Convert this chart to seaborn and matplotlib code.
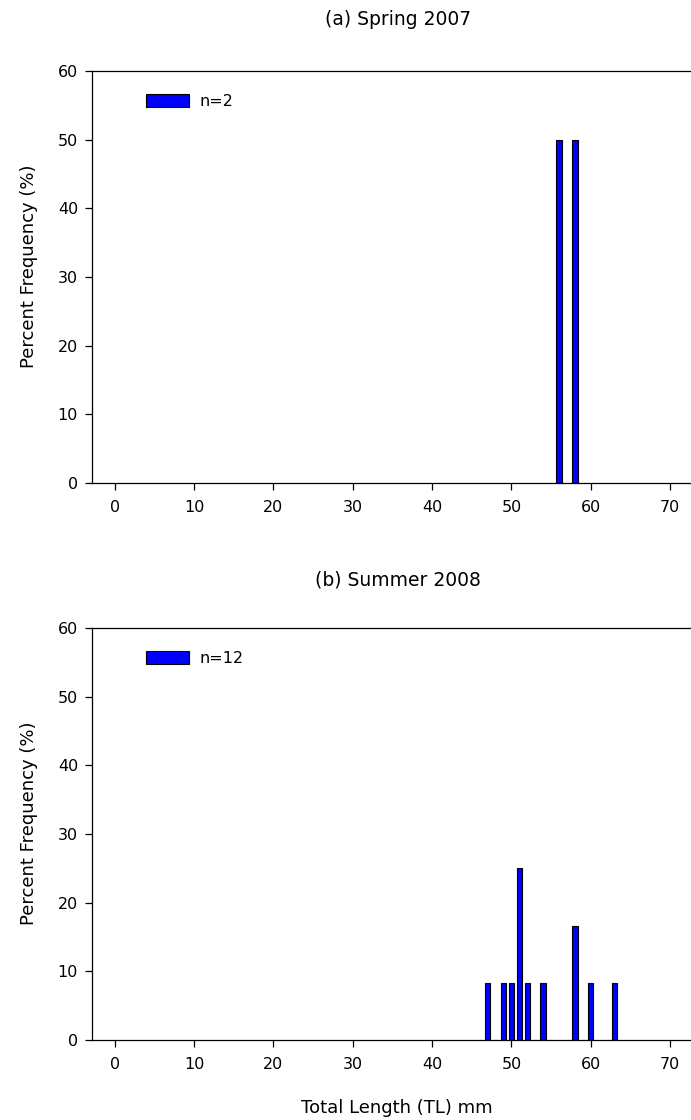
import numpy as np
import pandas as pd
import matplotlib
matplotlib.use("Agg")
import matplotlib.pyplot as plt
from matplotlib.patches import Patch
import seaborn as sns

# Data
spring_lengths = [56, 58]
spring_pct = [50.0, 50.0]
spring_n = "n=2"

summer_lengths = [47, 49, 50, 51, 52, 54, 58, 60, 63]
summer_pct = [8.33, 8.33, 8.33, 25.0, 8.33, 8.33, 16.67, 8.33, 8.33]
summer_n = "n=12"

titles = ["(a) Spring 2007", "(b) Summer 2008"]
x_ticks = [0, 10, 20, 30, 40, 50, 60, 70]
y_ticks = [0, 10, 20, 30, 40, 50, 60]

sns.set_style("ticks")
plt.rcParams['font.family'] = ['DejaVu Sans']
plt.rcParams['text.color'] = 'black'
plt.rcParams['axes.labelcolor'] = 'black'
plt.rcParams['xtick.color'] = 'black'
plt.rcParams['ytick.color'] = 'black'

fig = plt.figure(figsize=(6.91, 11.2), dpi=100)
L, R = 92, 705
ax1 = fig.add_axes([L / 691, 1 - 483 / 1120, (R - L) / 691, (483 - 71) / 1120])
ax2 = fig.add_axes([L / 691, 1 - 1040 / 1120, (R - L) / 691, (1040 - 628) / 1120])

BAR_W = 0.68
TICK_FS = 11.5
panels = [(ax1, spring_lengths, spring_pct, spring_n),
          (ax2, summer_lengths, summer_pct, summer_n)]

for ax, xs, ys, lab in panels:
    df = pd.DataFrame({"TL": xs, "pct": ys})
    spacing = np.min(np.diff(sorted(xs)))
    sns.barplot(data=df, x="TL", y="pct", native_scale=True, ax=ax,
                color="#0000FF", saturation=1, width=BAR_W / spacing,
                edgecolor="black", linewidth=0.8, errorbar=None)
    ax.set_xlim(-2.85, 74.4)
    ax.set_ylim(0, 60)
    ax.set_xticks(x_ticks)
    ax.set_yticks(y_ticks)
    ax.set_xlabel("")
    ax.set_ylabel("")
    ax.spines['right'].set_visible(False)
    ax.spines['top'].set_visible(True)
    for s in ax.spines.values():
        s.set_linewidth(0.9)
        s.set_color("black")
    ax.tick_params(axis='y', direction='out', length=5, width=0.9, pad=5, labelsize=TICK_FS,
                   colors='black', labelcolor='black')
    ax.tick_params(axis='x', direction='out', length=5, width=0.9, pad=7, labelsize=TICK_FS,
                   colors='black', labelcolor='black')
    handle = Patch(facecolor="#0000FF", edgecolor="black", linewidth=0.8)
    leg = ax.legend([handle], [lab], loc='upper left', bbox_to_anchor=(54 / (R - L), 0.944),
                    frameon=False, handlelength=2.7, handleheight=0.9, handletextpad=0.65,
                    borderpad=0, borderaxespad=0, fontsize=TICK_FS)
    for t in leg.get_texts():
        t.set_color('black')

fig.text(398 / 691, 1 - 25 / 1120, titles[0], ha='center', va='baseline', fontsize=13.5, color='black')
fig.text(398 / 691, 1 - 585 / 1120, titles[1], ha='center', va='baseline', fontsize=13.5, color='black')
fig.text(29 / 691, 1 - 266 / 1120, "Percent Frequency (%)", rotation=90, ha='center', va='center',
         fontsize=13, color='black')
fig.text(29 / 691, 1 - 823 / 1120, "Percent Frequency (%)", rotation=90, ha='center', va='center',
         fontsize=13, color='black')
fig.text(397 / 691, 1 - 1113 / 1120, "Total Length (TL) mm", ha='center', va='baseline', fontsize=13,
         color='black')

fig.savefig("out.png", dpi=100)
